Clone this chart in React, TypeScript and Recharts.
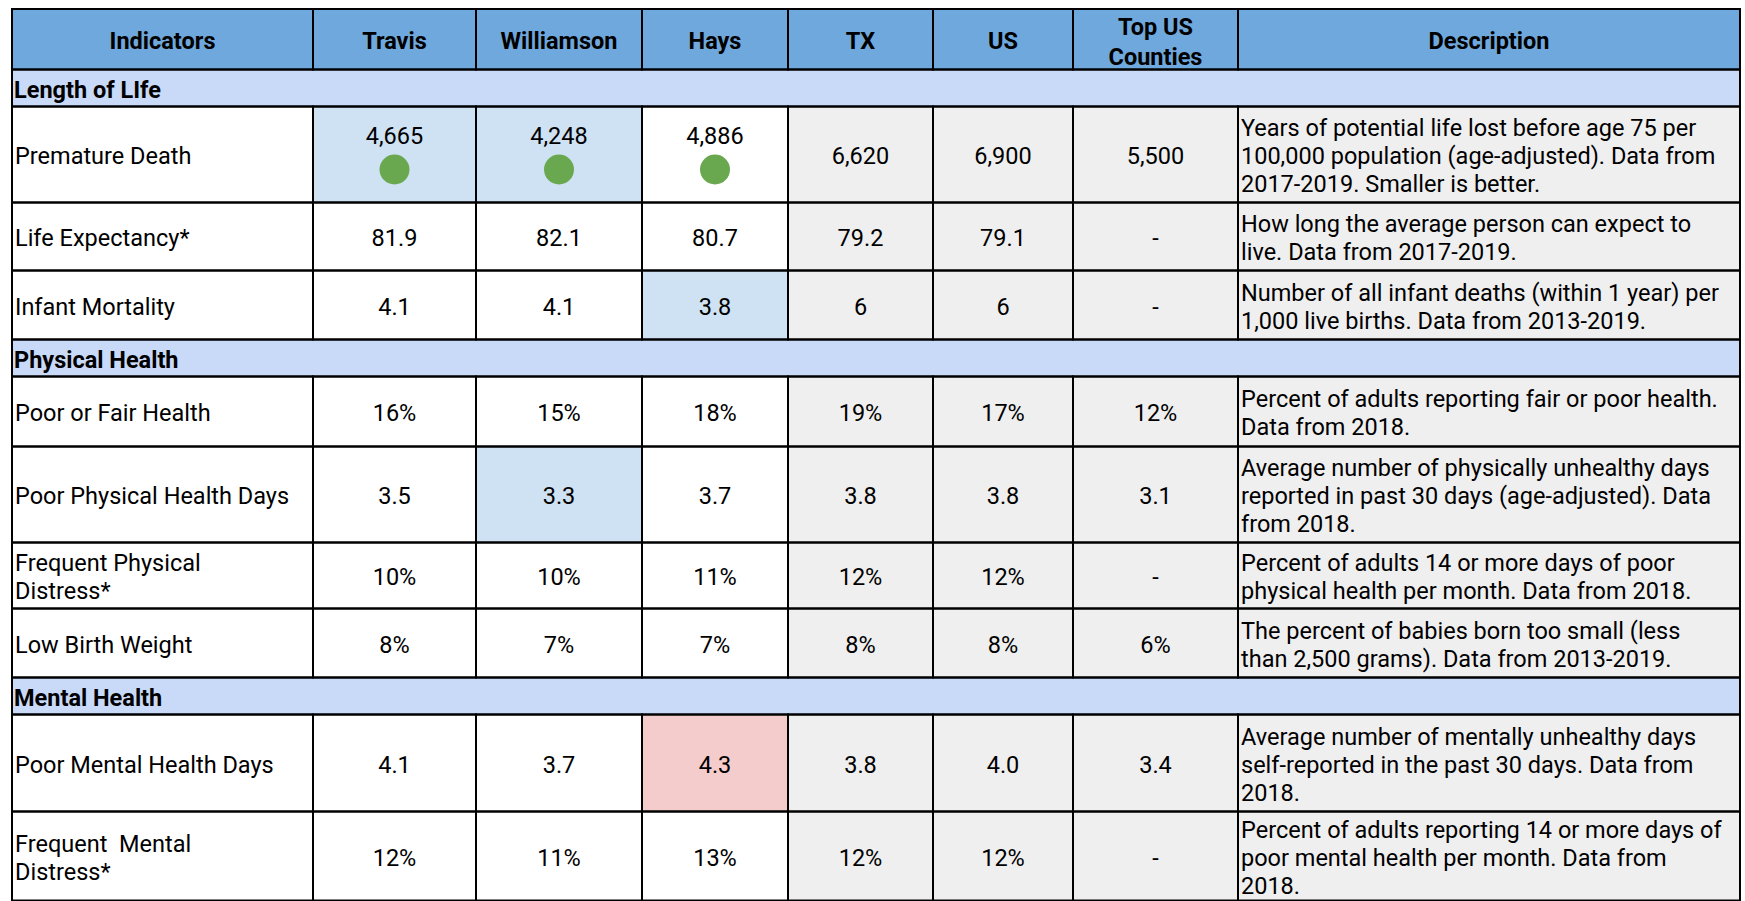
import { ScatterChart, Scatter, XAxis, YAxis } from "recharts"

// table content
const columns = ["Indicators", "Travis", "Williamson", "Hays", "TX", "US", "Top US\nCounties", "Description"]
const sectionNames = ["Length of LIfe", "Physical Health", "Mental Health"]
const indicators = [
  "Premature Death",
  "Life Expectancy*",
  "Infant Mortality",
  "Poor or Fair Health",
  "Poor Physical Health Days",
  "Frequent Physical\nDistress*",
  "Low Birth Weight",
  "Poor Mental Health Days",
  "Frequent  Mental\nDistress*",
]
const indicatorSection = [0, 0, 0, 1, 1, 1, 1, 2, 2]
const travis = ["4,665", "81.9", "4.1", "16%", "3.5", "10%", "8%", "4.1", "12%"]
const williamson = ["4,248", "82.1", "4.1", "15%", "3.3", "10%", "7%", "3.7", "11%"]
const hays = ["4,886", "80.7", "3.8", "18%", "3.7", "11%", "7%", "4.3", "13%"]
const tx = ["6,620", "79.2", "6", "19%", "3.8", "12%", "8%", "3.8", "12%"]
const us = ["6,900", "79.1", "6", "17%", "3.8", "12%", "8%", "4.0", "12%"]
const topUs = ["5,500", "-", "-", "12%", "3.1", "-", "6%", "3.4", "-"]
const descriptions = [
  "Years of potential life lost before age 75 per\n100,000 population (age-adjusted). Data from\n2017-2019. Smaller is better.",
  "How long the average person can expect to\nlive. Data from 2017-2019.",
  "Number of all infant deaths (within 1 year) per\n1,000 live births. Data from 2013-2019.",
  "Percent of adults reporting fair or poor health.\nData from 2018.",
  "Average number of physically unhealthy days\nreported in past 30 days (age-adjusted). Data\nfrom 2018.",
  "Percent of adults 14 or more days of poor\nphysical health per month. Data from 2018.",
  "The percent of babies born too small (less\nthan 2,500 grams). Data from 2013-2019.",
  "Average number of mentally unhealthy days\nself-reported in the past 30 days. Data from\n2018.",
  "Percent of adults reporting 14 or more days of\npoor mental health per month. Data from\n2018.",
]
// [row, column] of highlighted cells
const betterCells = [[0, 1], [0, 2], [2, 3], [4, 2]]
const worseCells = [[7, 3]]
const dotCells = [[0, 1], [0, 2], [0, 3]]

// layout
const W = 1745
const H = 901
const tableLeft = 12
const tableTop = 9
const colWidths = [301, 163, 166, 146, 145, 140, 165, 502]
const headerHeight = 60.5
const sectionHeight = 37
const rowHeights = [96, 68, 69, 70, 96, 66, 69, 97, 89]

const HEADER = "#6fa8dc"
const SECTION = "#c9daf8"
const GRAY = "#efefef"
const BLUE = "#cfe2f3"
const RED = "#f4cccc"
const GREEN = "#6aa84f"
const FONT = "Roboto, Arial, sans-serif"
const FS = 23.5
const LH = 28

const has = (list: number[][], r: number, c: number) => list.some(([a, b]) => a === r && b === c)

function buildCells() {
  const colX: number[] = []
  let x = tableLeft
  colWidths.forEach((w) => {
    colX.push(x)
    x += w
  })
  const totalW = x - tableLeft
  const cells: any[] = []
  let y = tableTop
  columns.forEach((name, c) => {
    cells.push({
      x: colX[c] + colWidths[c] / 2, y: y + headerHeight / 2, w: colWidths[c], h: headerHeight,
      lines: name.split("\n"), fill: HEADER, bold: true, align: "center",
    })
  })
  y += headerHeight
  let section = -1
  indicators.forEach((label, r) => {
    if (indicatorSection[r] !== section) {
      section = indicatorSection[r]
      cells.push({
        x: tableLeft + totalW / 2, y: y + sectionHeight / 2, w: totalW, h: sectionHeight,
        lines: [sectionNames[section]], fill: SECTION, bold: true, align: "left", pad: 2,
      })
      y += sectionHeight
    }
    const h = rowHeights[r]
    const values = [label, travis[r], williamson[r], hays[r], tx[r], us[r], topUs[r], descriptions[r]]
    values.forEach((v, c) => {
      let fill = c >= 4 ? GRAY : "#ffffff"
      if (has(betterCells, r, c)) fill = BLUE
      if (has(worseCells, r, c)) fill = RED
      cells.push({
        x: colX[c] + colWidths[c] / 2, y: y + h / 2, w: colWidths[c], h,
        lines: v.split("\n"), fill, bold: false,
        align: c === 0 || c === 7 ? "left" : "center", pad: 3,
        dot: has(dotCells, r, c),
      })
    })
    y += h
  })
  return cells
}

const cells = buildCells()

const CellFill = (p: any) => {
  const { cx, cy, payload: c } = p
  return <rect x={cx - c.w / 2} y={cy - c.h / 2} width={c.w} height={c.h} fill={c.fill} />
}

const CellFace = (p: any) => {
  const { cx, cy, payload: c } = p
  const left = cx - c.w / 2
  const n = c.lines.length
  const tx0 = c.align === "center" ? cx : left + c.pad
  const base = c.dot ? cy - 11 : cy + 9.5 - ((n - 1) * LH) / 2
  return (
    <g>
      <rect x={left} y={cy - c.h / 2} width={c.w} height={c.h} fill="none" stroke="#000" strokeWidth={2} />
      {c.dot && <circle cx={cx} cy={cy + 15} r={15} fill={GREEN} />}
      <text
        textAnchor={c.align === "center" ? "middle" : "start"}
        fontFamily={FONT}
        fontSize={FS}
        fontWeight={c.bold ? 700 : 400}
        fill="#000"
        style={{ whiteSpace: "pre" }}
      >
        {c.lines.map((line: string, i: number) => (
          <tspan key={i} x={tx0} y={base + i * (c.bold ? 30 : LH)}>
            {line}
          </tspan>
        ))}
      </text>
    </g>
  )
}

export default function App() {
  return (
    <div style={{ width: W, height: H, overflow: "hidden", background: "#fff" }}>
      <style>{"body{margin:0;overflow:hidden}"}</style>
      <ScatterChart width={W} height={H} margin={{ top: 0, right: 0, bottom: 0, left: 0 }}>
        <XAxis type="number" dataKey="x" domain={[0, W]} allowDataOverflow hide />
        <YAxis type="number" dataKey="y" domain={[0, H]} allowDataOverflow reversed hide />
        <Scatter data={cells} shape={CellFill} isAnimationActive={false} />
        <Scatter data={cells} shape={CellFace} isAnimationActive={false} />
      </ScatterChart>
    </div>
  )
}
